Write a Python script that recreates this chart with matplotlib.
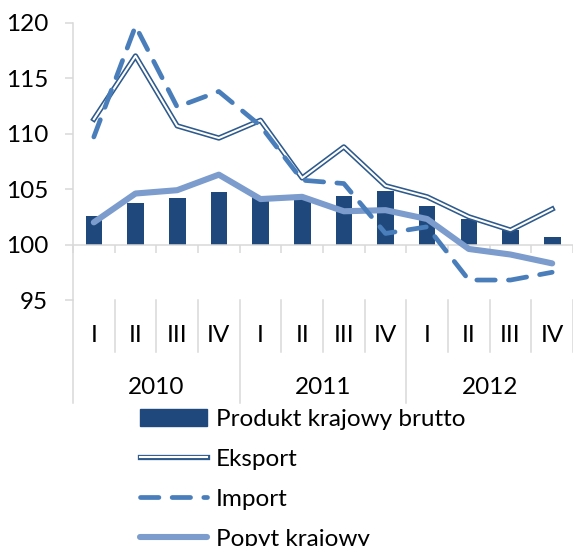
import numpy as np
import matplotlib.pyplot as plt
import matplotlib.transforms as mtransforms
import matplotlib.patheffects as pe
from matplotlib.lines import Line2D
from matplotlib.patches import Patch

plt.rcParams['font.family'] = ['Lato', 'DejaVu Sans']

quarters = ['I', 'II', 'III', 'IV'] * 3
years = ['2010', '2011', '2012']
pkb = [102.6, 103.7, 104.2, 104.7, 104.4, 104.1, 104.4, 104.8, 103.5, 102.3, 101.3, 100.7]
eksport = [111.3, 117.0, 110.7, 109.6, 111.2, 106.0, 108.8, 105.3, 104.3, 102.5, 101.3, 103.2]
imp = [109.7, 119.7, 112.4, 113.8, 110.7, 105.8, 105.5, 101.0, 101.6, 96.8, 96.8, 97.5]
popyt = [102.0, 104.6, 104.9, 106.3, 104.1, 104.3, 103.0, 103.1, 102.3, 99.6, 99.1, 98.3]
yticks = [95, 100, 105, 110, 115, 120]

W, H = 573, 546
grey = '#D9D9D9'
c_bar = '#1F497D'
c_exp = '#2E5A8C'
c_imp = '#4A7EBB'
c_pop = '#7B9CCC'
fs = 17.5

fig = plt.figure(figsize=(W / 100, H / 100), dpi=100)
ax = fig.add_axes([73 / W, 1 - 300 / H, 500 / W, (300 - 22.7) / H])
x = np.arange(len(quarters))

# double line for export: white core with a dark stroke around it
dbl = [pe.Stroke(linewidth=3.8, foreground=c_exp), pe.Normal()]

ax.bar(x, np.array(pkb) - 100, bottom=100, width=0.4, color=c_bar, zorder=2)
ax.plot(x, eksport, color='white', lw=1.5, zorder=3, path_effects=dbl)
ax.plot(x, popyt, color=c_pop, lw=4.4, zorder=4, solid_capstyle='round')
ax.plot(x, imp, color=c_imp, lw=3.4, zorder=5, dashes=(3.9, 2.8),
        dash_capstyle='round')

ax.set_xlim(-0.5, 11.5)
ax.set_ylim(95, 120)
ax.set_yticks(yticks)
ax.set_yticklabels([str(v) for v in yticks], fontsize=fs)
ax.tick_params(axis='y', length=5.8, width=1.1, color=grey, pad=12)
ax.set_xticks(np.arange(-0.5, 12, 1))
ax.set_xticklabels([])
ax.tick_params(axis='x', length=5.8, width=1.1, color=grey, direction='out')
for s in ['top', 'right']:
    ax.spines[s].set_visible(False)
ax.spines['bottom'].set_position(('data', 100))
ax.spines['bottom'].set_color(grey)
ax.spines['left'].set_color(grey)
ax.spines['bottom'].set_linewidth(1.1)
ax.spines['left'].set_linewidth(1.1)

# category axis below the plot
tr = mtransforms.blended_transform_factory(ax.transData, fig.transFigure)
def fy(px):
    return 1 - px / H

for b in np.arange(-0.5, 12, 1):
    bottom = 403 if b in (-0.5, 3.5, 7.5) else 352
    ax.add_line(Line2D([b, b], [fy(300), fy(bottom)], transform=tr, color=grey,
                       lw=1.1, clip_on=False))
for i, q in enumerate(quarters):
    ax.text(i, fy(335), q, transform=tr, ha='center', va='center', fontsize=fs)
for j, y in enumerate(years):
    ax.text(4 * j + 1.5, fy(387), y, transform=tr, ha='center', va='center', fontsize=fs)

h_bar = Patch(color=c_bar)
h_exp = Line2D([], [], color='white', lw=1.5, path_effects=dbl)
h_imp = Line2D([], [], color=c_imp, lw=3.4, dashes=(3.9, 2.8), dash_capstyle='round')
h_pop = Line2D([], [], color=c_pop, lw=4.4, solid_capstyle='round')
fig.legend([h_bar, h_exp, h_imp, h_pop],
           ['Produkt krajowy brutto', 'Eksport', 'Import', 'Popyt krajowy'],
           loc='upper left', bbox_to_anchor=(140 / W, fy(409)), frameon=False,
           fontsize=fs, handlelength=2.75, handletextpad=0.38, labelspacing=0.78,
           borderpad=0, borderaxespad=0)

fig.savefig('out.png', dpi=100)
